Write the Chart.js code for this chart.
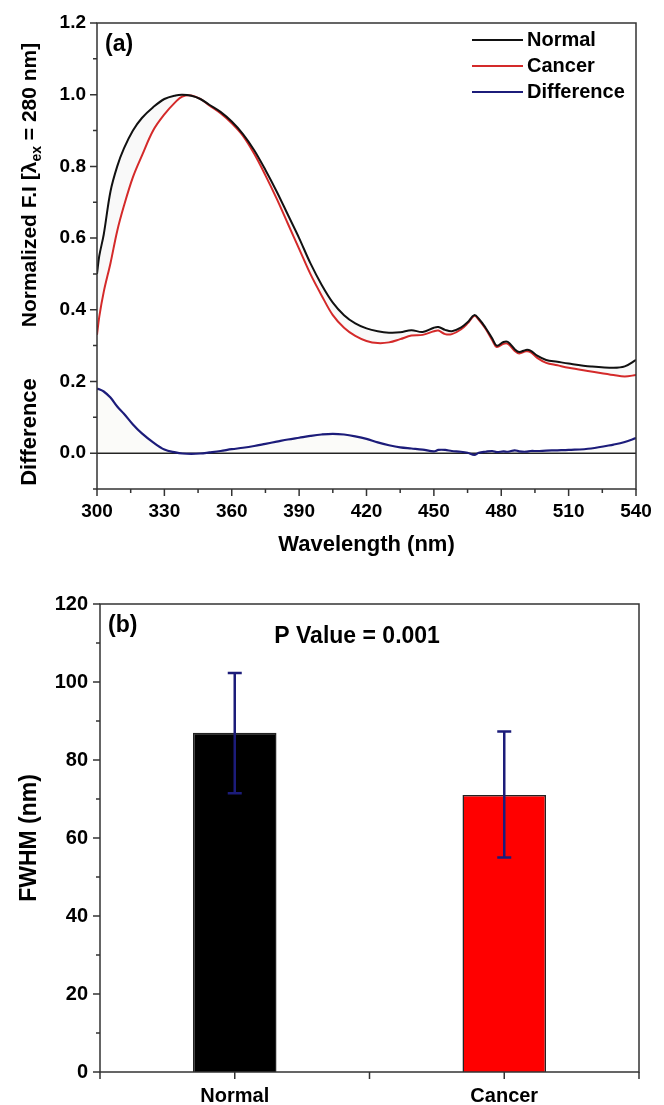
<!DOCTYPE html>
<html>
<head>
<meta charset="utf-8">
<script src="https://cdn.jsdelivr.net/npm/chart.js@4"></script>
<style>
  body { margin: 0; background: #fff; }
  #wrapA { position: absolute; left: 0; top: 0; width: 664px; height: 565px; }
  #wrapB { position: absolute; left: 0; top: 570px; width: 664px; height: 535px; }
</style>
</head>
<body>
<div id="wrapA"><canvas id="chartA"></canvas></div>
<div id="wrapB"><canvas id="chartB"></canvas></div>
<script>
// panel (a): emission spectra
const wavelength = [300, 301, 303, 306, 309, 312, 316, 320, 325, 330, 335, 338, 342, 346, 350, 355,
    360, 365, 370, 375, 380, 385, 390, 395, 400, 405, 410, 415, 420, 425, 430,
    435, 440, 445, 450, 452, 455, 458, 462, 465, 468, 470, 473, 476, 478, 481, 483, 486, 488, 491, 493, 496, 500, 505, 510, 520, 530, 535, 540];
const normal = [0.50, 0.55, 0.61, 0.73, 0.80, 0.85, 0.90, 0.935, 0.965, 0.988, 0.998, 1.0, 0.997, 0.988, 0.972, 0.952,
    0.925, 0.89, 0.845, 0.79, 0.73, 0.665, 0.60, 0.53, 0.47, 0.42, 0.385, 0.362, 0.348, 0.34, 0.336,
    0.337, 0.343, 0.338, 0.35, 0.352, 0.344, 0.34, 0.35, 0.365, 0.385, 0.375, 0.35, 0.32, 0.30, 0.31, 0.31, 0.29, 0.282, 0.288, 0.286, 0.272, 0.26, 0.255, 0.25, 0.242, 0.238, 0.242, 0.26];
const cancer = [0.33, 0.38, 0.45, 0.53, 0.62, 0.69, 0.77, 0.83, 0.90, 0.945, 0.98, 0.995, 0.998, 0.988, 0.97, 0.948,
    0.92, 0.885, 0.835, 0.775, 0.71, 0.64, 0.57, 0.50, 0.44, 0.385, 0.35, 0.327, 0.313, 0.307, 0.309,
    0.318, 0.328, 0.33, 0.34, 0.342, 0.332, 0.332, 0.345, 0.362, 0.383, 0.372, 0.347, 0.315, 0.296, 0.305, 0.305, 0.285, 0.278, 0.284, 0.282, 0.266, 0.252, 0.245, 0.238, 0.228, 0.218, 0.214, 0.218];
const difference = [0.18, 0.178, 0.172, 0.155, 0.13, 0.11, 0.08, 0.055, 0.03, 0.01, 0.002, -0.001, -0.002, -0.001, 0.002, 0.006,
    0.011, 0.015, 0.02, 0.026, 0.032, 0.038, 0.043, 0.048, 0.052, 0.054, 0.052, 0.047, 0.04, 0.03, 0.022,
    0.016, 0.013, 0.01, 0.005, 0.009, 0.009, 0.006, 0.004, 0.001, -0.005, 0.001, 0.004, 0.006, 0.003, 0.005, 0.004, 0.008, 0.005, 0.004, 0.006, 0.006, 0.007, 0.008, 0.009, 0.013, 0.024, 0.031, 0.042];
const xTicksA = [300, 330, 360, 390, 420, 450, 480, 510, 540];
const yTicksA = [0.0, 0.2, 0.4, 0.6, 0.8, 1.0, 1.2];

// panel (b): FWHM bars with error bars
const groups = ['Normal', 'Cancer'];
const fwhm = [87, 71];
const errLow = [71.5, 55];
const errHigh = [102.3, 87.3];
const yTicksB = [0, 20, 40, 60, 80, 100, 120];

const FONT = "'Liberation Sans', Arial, sans-serif";

function pts(ys) {
    return wavelength.map((w, i) => ({ x: w, y: ys[i] }));
}

// extra drawing per canvas (kept out of chart options so nothing gets resolved as scriptable)
const decoConf = {
    chartA: {
        letter: '(a)',
        zeroLine: true,
        xPix: (s, v) => s.getPixelForValue(v),
        xMajor: xTicksA,
        xMinor: [315, 345, 375, 405, 435, 465, 495, 525],
        yMajor: yTicksA,
        yMinor: [-0.1, 0.1, 0.3, 0.5, 0.7, 0.9, 1.1],
        drawExtra(chart, ctx, a) {
            // legend inside plot
            ctx.font = 'bold 20px ' + FONT;
            ctx.textAlign = 'left';
            ctx.textBaseline = 'middle';
            chart.data.datasets.forEach((d, i) => {
                const y = 40 + i * 26;
                ctx.strokeStyle = d.borderColor;
                ctx.lineWidth = 2;
                ctx.beginPath();
                ctx.moveTo(472, y);
                ctx.lineTo(523, y);
                ctx.stroke();
                ctx.fillStyle = '#000';
                ctx.fillText(d.label, 527, y);
            });
            // axis titles
            ctx.save();
            ctx.translate(30, 185);
            ctx.rotate(-Math.PI / 2);
            ctx.textAlign = 'left';
            const p1 = 'Normalized F.I [\u03bb', p2 = 'ex', p3 = ' = 280 nm]';
            ctx.font = 'bold 21px ' + FONT;
            const w1 = ctx.measureText(p1).width, w3 = ctx.measureText(p3).width;
            ctx.font = 'bold 14px ' + FONT;
            const w2 = ctx.measureText(p2).width;
            let x = -(w1 + w2 + w3) / 2;
            ctx.font = 'bold 21px ' + FONT;
            ctx.fillText(p1, x, 0);
            x += w1;
            ctx.font = 'bold 14px ' + FONT;
            ctx.fillText(p2, x, 7);
            x += w2;
            ctx.font = 'bold 21px ' + FONT;
            ctx.fillText(p3, x, 0);
            ctx.restore();

            ctx.save();
            ctx.translate(30, 432);
            ctx.rotate(-Math.PI / 2);
            ctx.textAlign = 'center';
            ctx.font = 'bold 22px ' + FONT;
            ctx.fillText('Difference', 0, 0);
            ctx.restore();

            ctx.textAlign = 'center';
            ctx.font = 'bold 22px ' + FONT;
            ctx.fillText('Wavelength (nm)', (a.left + a.right) / 2, 545);
        }
    },
    chartB: {
        letter: '(b)',
        zeroLine: false,
        // category axis: ticks at the edges, the group centres and the boundary
        xPix: (s, v) => s.left + (s.right - s.left) * v / 2,
        xMajor: [0, 0.5, 1, 1.5, 2],
        xMinor: [],
        yMajor: yTicksB,
        yMinor: [10, 30, 50, 70, 90, 110],
        drawExtra(chart, ctx, a) {
            const sy = chart.scales.y;
            const meta = chart.getDatasetMeta(0);
            ctx.strokeStyle = '#1c1c7a';
            ctx.lineWidth = 2.5;
            meta.data.forEach((bar, i) => {
                const yl = sy.getPixelForValue(errLow[i]);
                const yh = sy.getPixelForValue(errHigh[i]);
                ctx.beginPath();
                ctx.moveTo(bar.x, yl); ctx.lineTo(bar.x, yh);
                ctx.moveTo(bar.x - 7, yl); ctx.lineTo(bar.x + 7, yl);
                ctx.moveTo(bar.x - 7, yh); ctx.lineTo(bar.x + 7, yh);
                ctx.stroke();
            });
            ctx.fillStyle = '#000';
            ctx.textAlign = 'center';
            ctx.textBaseline = 'middle';
            ctx.font = 'bold 23px ' + FONT;
            ctx.fillText('P Value = 0.001', a.left + (a.right - a.left) * 0.477, a.top + 33);

            ctx.save();
            ctx.translate(30, (a.top + a.bottom) / 2);
            ctx.rotate(-Math.PI / 2);
            ctx.font = 'bold 23px ' + FONT;
            ctx.fillText('FWHM (nm)', 0, 0);
            ctx.restore();
        }
    }
};

const deco = {
    id: 'deco',
    beforeDatasetsDraw(chart) {
        const o = decoConf[chart.canvas.id];
        const ctx = chart.ctx, a = chart.chartArea;
        if (o.zeroLine) {
            const y0 = chart.scales.y.getPixelForValue(0);
            ctx.save();
            ctx.strokeStyle = '#222';
            ctx.lineWidth = 1.5;
            ctx.beginPath();
            ctx.moveTo(a.left, y0);
            ctx.lineTo(a.right, y0);
            ctx.stroke();
            ctx.restore();
        }
    },
    afterDraw(chart) {
        const o = decoConf[chart.canvas.id];
        const ctx = chart.ctx, a = chart.chartArea;
        const sx = chart.scales.x, sy = chart.scales.y;
        ctx.save();
        ctx.strokeStyle = '#333';
        ctx.lineWidth = 1.5;
        ctx.strokeRect(a.left, a.top, a.right - a.left, a.bottom - a.top);

        ctx.beginPath();
        o.xMajor.forEach(v => { const x = o.xPix(sx, v); ctx.moveTo(x, a.bottom); ctx.lineTo(x, a.bottom + 7); });
        o.xMinor.forEach(v => { const x = o.xPix(sx, v); ctx.moveTo(x, a.bottom); ctx.lineTo(x, a.bottom + 4); });
        o.yMajor.forEach(v => { const y = sy.getPixelForValue(v); ctx.moveTo(a.left, y); ctx.lineTo(a.left - 7, y); });
        o.yMinor.forEach(v => { const y = sy.getPixelForValue(v); ctx.moveTo(a.left, y); ctx.lineTo(a.left - 4, y); });
        ctx.stroke();

        ctx.fillStyle = '#000';
        ctx.font = 'bold 23px ' + FONT;
        ctx.textBaseline = 'middle';
        ctx.textAlign = 'left';
        ctx.fillText(o.letter, a.left + 8, a.top + 22);

        o.drawExtra(chart, ctx, a);
        ctx.restore();
    }
};

// ---- chart (a)
new Chart(document.getElementById('chartA'), {
    type: 'line',
    data: {
        datasets: [
            { label: 'Normal', data: pts(normal), borderColor: '#111', borderWidth: 2 },
            { label: 'Cancer', data: pts(cancer), borderColor: '#d42a2a', borderWidth: 2, fill: '-1', backgroundColor: 'rgba(0,0,0,0.025)' },
            { label: 'Difference', data: pts(difference), borderColor: '#1c1c7a', borderWidth: 2.2, fill: 'origin', backgroundColor: 'rgba(190,190,150,0.06)' }
        ]
    },
    options: {
        responsive: true,
        maintainAspectRatio: false,
        animation: false,
        elements: { point: { radius: 0 }, line: { tension: 0.35 } },
        layout: { padding: { left: 0, right: 28, top: 23, bottom: 0 } },
        scales: {
            x: {
                type: 'linear', min: 300, max: 540,
                afterBuildTicks: s => { s.ticks = xTicksA.map(v => ({ value: v })); },
                afterFit: s => { s.height = 76; },
                grid: { display: false, drawTicks: false },
                border: { display: false },
                ticks: { padding: 11, color: '#000', font: { family: FONT, size: 19, weight: 'bold' }, maxRotation: 0 }
            },
            y: {
                min: -0.1, max: 1.2,
                afterBuildTicks: s => { s.ticks = yTicksA.map(v => ({ value: v })); },
                afterFit: s => { s.width = 97; },
                grid: { display: false, drawTicks: false },
                border: { display: false },
                ticks: { padding: 11, color: '#000', font: { family: FONT, size: 19, weight: 'bold' }, callback: v => v.toFixed(1) }
            }
        },
        plugins: { legend: { display: false }, tooltip: { enabled: false } }
    },
    plugins: [deco]
});

// ---- chart (b)
new Chart(document.getElementById('chartB'), {
    type: 'bar',
    data: {
        labels: groups,
        datasets: [{
            data: fwhm,
            backgroundColor: ['#000000', '#ff0000'],
            borderColor: '#222',
            borderWidth: 1.5,
            categoryPercentage: 1,
            barPercentage: 0.31
        }]
    },
    options: {
        responsive: true,
        maintainAspectRatio: false,
        animation: false,
        layout: { padding: { left: 0, right: 25, top: 34, bottom: 0 } },
        scales: {
            x: {
                afterFit: s => { s.height = 33; },
                grid: { display: false, drawTicks: false },
                border: { display: false },
                ticks: { padding: 12, color: '#000', font: { family: FONT, size: 20, weight: 'bold' } }
            },
            y: {
                min: 0, max: 120,
                afterBuildTicks: s => { s.ticks = yTicksB.map(v => ({ value: v })); },
                afterFit: s => { s.width = 100; },
                grid: { display: false, drawTicks: false },
                border: { display: false },
                ticks: { padding: 12, color: '#000', font: { family: FONT, size: 20, weight: 'bold' } }
            }
        },
        plugins: { legend: { display: false }, tooltip: { enabled: false } }
    },
    plugins: [deco]
});
</script>
</body>
</html>
